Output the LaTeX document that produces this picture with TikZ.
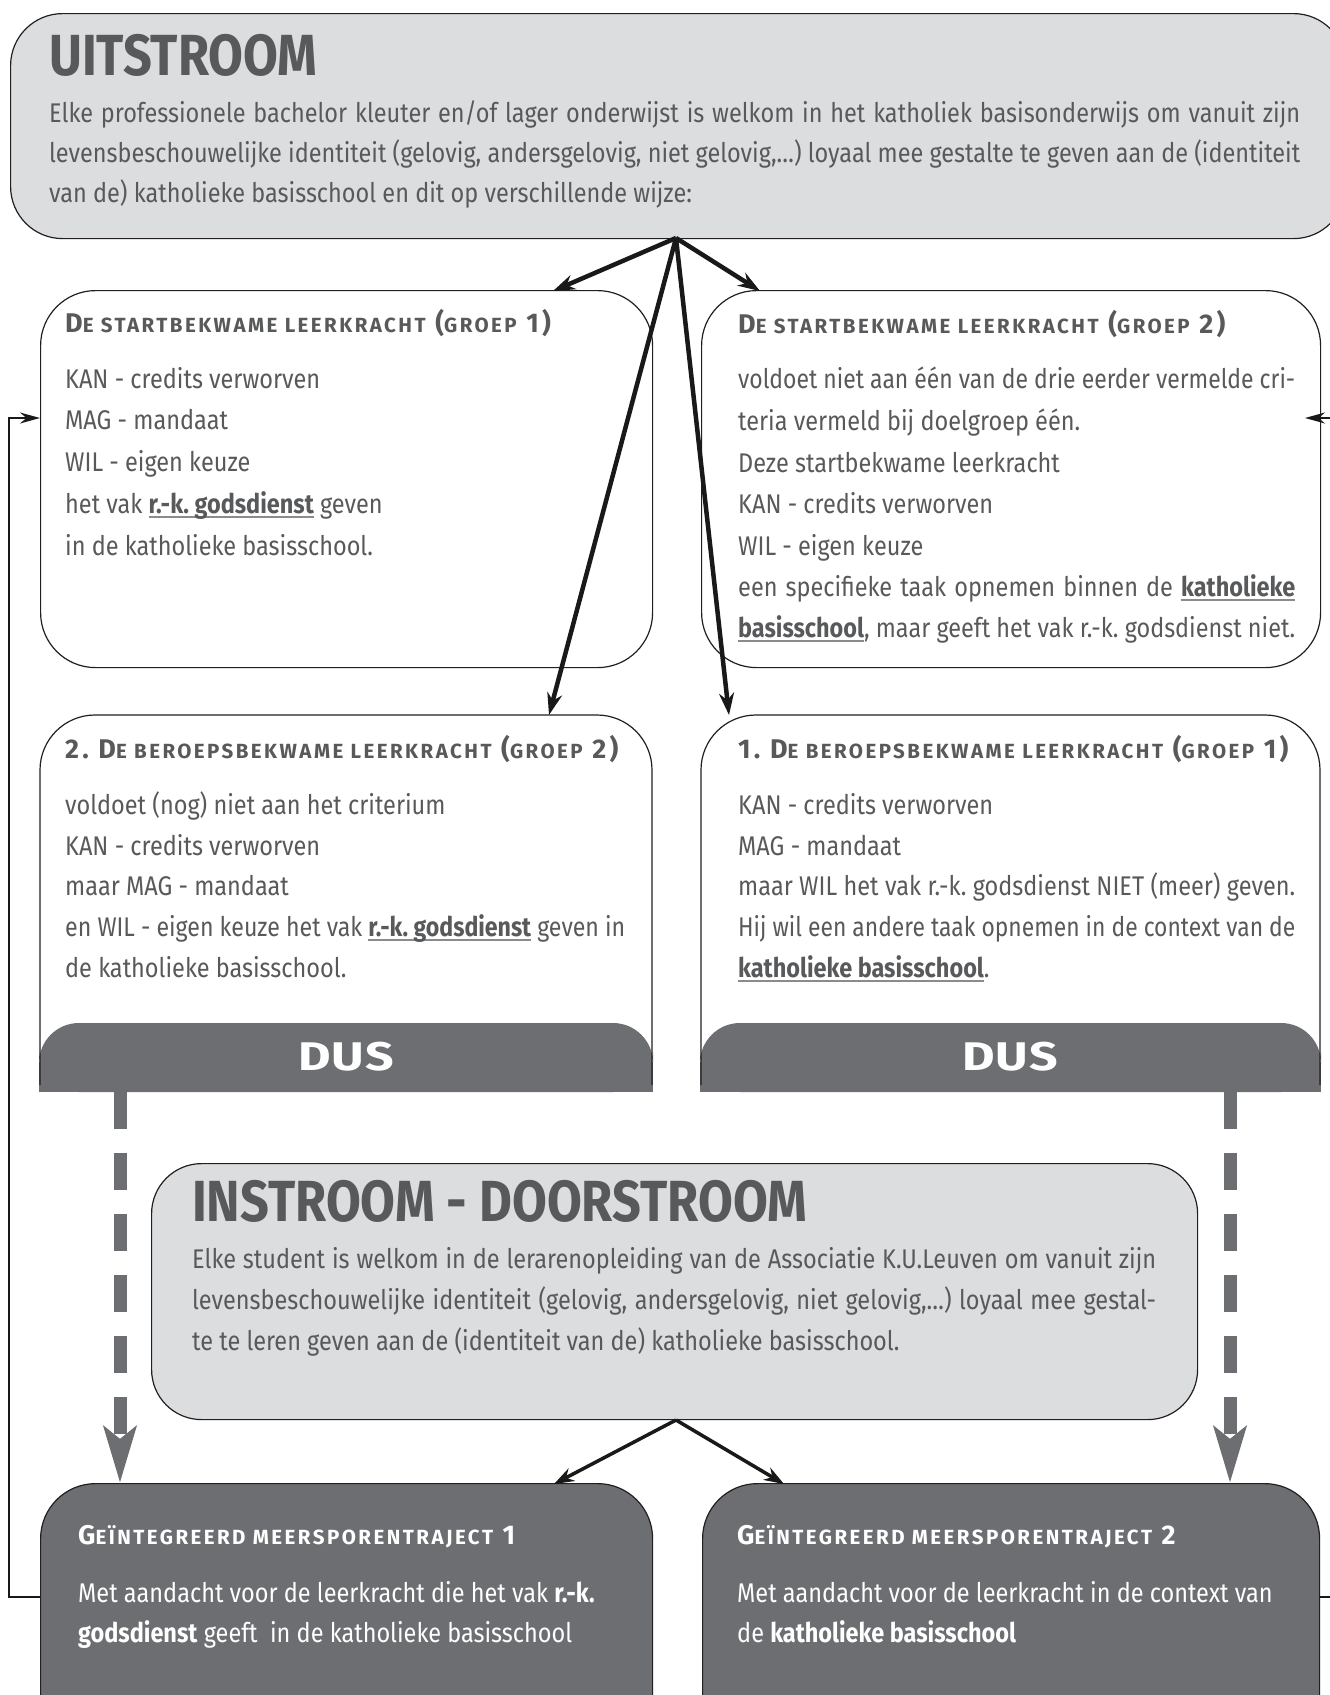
\documentclass[tikz,border=0pt]{standalone}
\usepackage{fontspec}
\usepackage{graphicx}
\setmainfont{Fira Sans}[FakeStretch=0.87]
\newfontfamily\scfont{Fira Sans}[LetterSpace=12]
\newfontfamily\dusfont{Fira Sans}[FakeStretch=1.25,LetterSpace=3]
\usetikzlibrary{arrows.meta}
\definecolor{txt}{HTML}{58595B}
\definecolor{lgray}{HTML}{DCDDDF}
\definecolor{dgray}{HTML}{6D6E71}
\definecolor{edge}{HTML}{231F20}
\definecolor{ulgray}{HTML}{8A8B8D}
\frenchspacing
\newcommand\bodyf{\fontsize{27}{32}\selectfont}
\newcommand\ulw[1]{\setbox0\hbox{\bfseries #1}\rlap{\color{ulgray}\rule[-5pt]{\wd0}{1.6pt}}\box0\relax}
\newcommand\jline[2]{\setbox2\hbox{#2}\ifdim\wd2>#1\relax\resizebox{#1}{\height}{\box2}\else\makebox[#1][s]{#2}\fi}
\newcommand\hd[1]{{\scfont\bfseries\fontsize{27}{30}\selectfont #1}}
\newcommand\sm[1]{{\fontsize{20.5}{23}\selectfont #1}}
\tikzset{
  tl/.style={anchor=base west, inner sep=0pt, text=txt, font=\bodyf},
  wl/.style={anchor=base west, inner sep=0pt, text=white, font=\bodyf},
  title/.style={anchor=base west, inner sep=0pt, text=txt, font=\bfseries\fontsize{58}{62}\selectfont},
  gbox/.style={draw=edge, line width=1.2pt, fill=lgray, rounded corners=52pt, anchor=north west, inner sep=0pt},
  wbox/.style={draw=edge, line width=1.2pt, rounded corners=55pt, anchor=north west, inner sep=0pt},
  dbox/.style={draw=edge, line width=1.2pt, fill=dgray, rounded corners=55pt, anchor=north west, inner sep=0pt},
  bord/.style={draw=edge, line width=1.2pt},
  arr/.style={draw=black!90, line width=4.5pt, -{Stealth[length=22pt,width=15pt]}},
  arrb/.style={draw=black!90, line width=3.5pt, -{Stealth[length=20pt,width=14pt]}},
  fb/.style={draw=black!90, line width=1.8pt, -{Stealth[length=20pt,width=11pt]}},
  dasharr/.style={draw=dgray, line width=13pt, dash pattern=on 37pt off 24pt, -{Stealth[length=56pt,width=32pt,inset=12pt]}},
  dus/.style={anchor=base, inner sep=0pt, text=white, font=\dusfont\bfseries\fontsize{40}{44}\selectfont}
}
\begin{document}
\begin{tikzpicture}[x=1pt,y=-1pt]
\useasboundingbox (0,0) rectangle (1330,1695);
\clip (0,0) rectangle (1330,1695);
\fill[white] (0,0) rectangle (1330,1695);

% ---------- UITSTROOM
\node[gbox, minimum width=1335pt, minimum height=225pt] (top) at (10,13) {};
\node[title] (t1) at (49,75) {UITSTROOM};
\node[tl] (t1a) at (49,122) {\jline{1251pt}{Elke professionele bachelor kleuter en/of lager onderwijst is welkom in het katholiek basisonderwijs om vanuit zijn}};
\node[tl] (t1b) at (49,162) {\jline{1251pt}{levensbeschouwelijke identiteit (gelovig, andersgelovig, niet gelovig,…) loyaal mee gestalte te geven aan de (identiteit}};
\node[tl] (t1c) at (49,202) {van de) katholieke basisschool en dit op verschillende wijze:};

% ---------- Box A
\node[wbox, minimum width=612pt, minimum height=377pt] (A) at (40,290) {};
\node[tl] (a0) at (65,332) {\hd{D\sm{E STARTBEKWAME LEERKRACHT} (\sm{GROEP} 1)}};
\node[tl] (a1) at (65,388) {KAN - credits verworven};
\node[tl] (a2) at (65,429) {MAG - mandaat};
\node[tl] (a3) at (65,471) {WIL - eigen keuze};
\node[tl] (a4) at (65,513) {het vak \ulw{r.-k. godsdienst} geven};
\node[tl] (a5) at (65,555) {in de katholieke basisschool.};

% ---------- Box B
\node[wbox, minimum width=619pt, minimum height=377pt] (B) at (701,290) {};
\node[tl] (b0) at (738,333) {\hd{D\sm{E STARTBEKWAME LEERKRACHT} (\sm{GROEP} 2)}};
\node[tl] (b1) at (738,388) {\jline{557pt}{voldoet niet aan één van de drie eerder vermelde cri-}};
\node[tl] (b2) at (738,430) {teria vermeld bij doelgroep één.};
\node[tl] (b3) at (738,472) {Deze startbekwame leerkracht};
\node[tl] (b4) at (738,513) {KAN - credits verworven};
\node[tl] (b5) at (738,555) {WIL - eigen keuze};
\node[tl] (b6) at (738,596) {\jline{557pt}{een specifieke taak opnemen binnen de \ulw{katholieke}}};
\node[tl] (b7) at (738,637) {\jline{557pt}{\ulw{basisschool}, maar geeft het vak r.-k. godsdienst niet.}};

% ---------- Box C (2. beroepsbekwame)
\fill[dgray, rounded corners=40pt] (39,1023) rectangle (653,1092);
\fill[dgray] (39,1062) rectangle (653,1092);
\draw[bord, rounded corners=55pt] (40,1085) -- (40,715) -- (652,715) -- (652,1085);
\coordinate (Ctop) at (549,715);
\node[dus] (dusC) at (346,1070) {DUS};
\coordinate (Cbot) at (120,1092);
\node[tl] (c0) at (65,758) {\hd{2. D\sm{E BEROEPSBEKWAME LEERKRACHT} (\sm{GROEP} 2)}};
\node[tl] (c1) at (65,814) {voldoet (nog) niet aan het criterium};
\node[tl] (c2) at (65,855) {KAN - credits verworven};
\node[tl] (c3) at (65,895) {maar MAG - mandaat};
\node[tl] (c4) at (65,936) {\jline{560pt}{en WIL - eigen keuze het vak \ulw{r.-k. godsdienst} geven in}};
\node[tl] (c5) at (65,977) {de katholieke basisschool.};

% ---------- Box D (1. beroepsbekwame)
\fill[dgray, rounded corners=40pt] (700,1023) rectangle (1321,1092);
\fill[dgray] (700,1062) rectangle (1321,1092);
\draw[bord, rounded corners=55pt] (701,1085) -- (701,715) -- (1320,715) -- (1320,1085);
\coordinate (Dtop) at (729,715);
\node[dus] (dusD) at (1010,1070) {DUS};
\coordinate (Dbot) at (1230,1092);
\node[tl] (d0) at (738,758) {\hd{1. D\sm{E BEROEPSBEKWAME LEERKRACHT} (\sm{GROEP} 1)}};
\node[tl] (d1) at (738,814) {KAN - credits verworven};
\node[tl] (d2) at (738,855) {MAG - mandaat};
\node[tl] (d3) at (738,895) {\jline{557pt}{maar WIL het vak r.-k. godsdienst NIET (meer) geven.}};
\node[tl] (d4) at (738,936) {\jline{557pt}{Hij wil een andere taak opnemen in de context van de}};
\node[tl] (d5) at (738,977) {\ulw{katholieke basisschool}.};

% ---------- INSTROOM
\node[gbox, rounded corners=50pt, minimum width=1046pt, minimum height=256pt] (mid) at (151,1163) {};
\node[title] (t2) at (192,1221) {INSTROOM - DOORSTROOM};
\node[tl] (t2a) at (192,1268) {\jline{964pt}{Elke student is welkom in de lerarenopleiding van de Associatie K.U.Leuven om vanuit zijn}};
\node[tl] (t2b) at (192,1309) {\jline{964pt}{levensbeschouwelijke identiteit (gelovig, andersgelovig, niet gelovig,…) loyaal mee gestal-}};
\node[tl] (t2c) at (192,1350) {te te leren geven aan de (identiteit van de) katholieke basisschool.};

% ---------- G1 / G2
\node[dbox, minimum width=612pt, minimum height=320pt] (G1) at (40,1483) {};
\node[wl] (g10) at (78,1544) {\hd{G\sm{EÏNTEGREERD MEERSPORENTRAJECT} 1}};
\node[wl] (g11) at (78,1602) {Met aandacht voor de leerkracht die het vak \textbf{r.-k.}};
\node[wl] (g12) at (78,1642) {\textbf{godsdienst} geeft~ in de katholieke basisschool};
\node[dbox, minimum width=617pt, minimum height=320pt] (G2) at (702,1483) {};
\node[wl] (g20) at (737,1544) {\hd{G\sm{EÏNTEGREERD MEERSPORENTRAJECT} 2}};
\node[wl] (g21) at (737,1602) {Met aandacht voor de leerkracht in de context van};
\node[wl] (g22) at (737,1642) {de \textbf{katholieke basisschool}};

% ---------- connectors
\coordinate (ua) at (676,238);
\coordinate (Ain) at (553,291);
\coordinate (Bin) at (760,291);
\draw[arr] (ua) -- (Ain);
\draw[arr] (ua) -- (Bin);
\draw[arr] (ua) -- (Ctop);
\draw[arr] (ua) -- (Dtop);

\coordinate (ma) at (676,1420);
\coordinate (G1in) at (554,1484);
\coordinate (G2in) at (784,1484);
\draw[arrb] (ma) -- (G1in);
\draw[arrb] (ma) -- (G2in);

\coordinate (G1tip) at (120,1483);
\coordinate (G2tip) at (1230,1483);
\draw[dasharr] (Cbot) -- (G1tip);
\draw[dasharr] (Dbot) -- (G2tip);

\coordinate (g1w) at (40,1597);
\coordinate (aw) at (40,418);
\draw[fb] (g1w) -- ++(-31,0) |- (aw);
\coordinate (g2e) at (1319,1597);
\coordinate (be) at (1305,418);
\draw[fb] (g2e) -- ++(30,0) |- (be);
\end{tikzpicture}
\end{document}
